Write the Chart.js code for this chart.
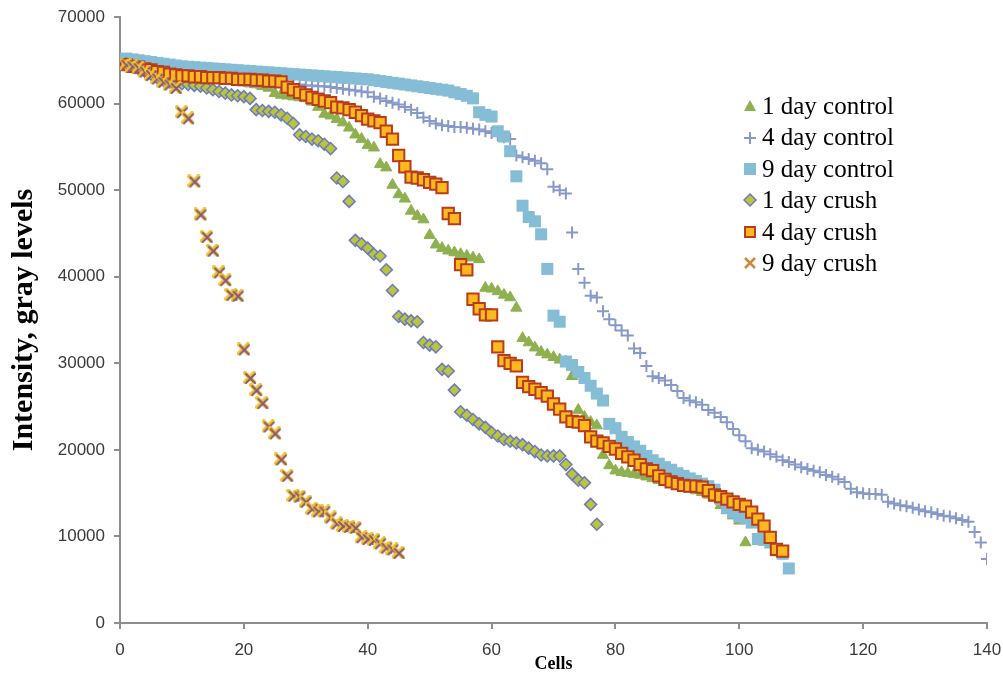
<!DOCTYPE html>
<html>
<head>
<meta charset="utf-8">
<script src="https://cdn.jsdelivr.net/npm/chart.js@4.4.1/dist/chart.umd.min.js"></script>
<style>
html, body { margin: 0; padding: 0; background: #fff; }
#wrap { position: relative; width: 1003px; height: 677px; }
#legend { position: absolute; left: 742px; top: 90px; font-family: "Liberation Serif", "Times New Roman", serif; font-size: 25px; color: #000; }
#legend div { height: 31.4px; line-height: 31.4px; white-space: nowrap; }
#legend svg { vertical-align: middle; margin-right: 4px; position: relative; top: -2px; }
</style>
</head>
<body>
<div id="wrap">
<canvas id="chart" width="1003" height="677"></canvas>
<div id="legend"></div>
</div>
<script>
// values, cell 1..N
const oneDayControl = [64700,64500,64300,64100,63900,63800,63700,63600,63500,63400,
  63300,63200,63100,63000,62900,62800,62700,62600,62500,62400,
  62300,62200,62000,61800,61200,61000,60900,60800,60700,60600,
  60200,59600,58800,58600,58200,57800,57200,56400,55900,55200,
  54900,53000,52600,50600,49500,49000,47600,47000,46600,44800,
  43700,43300,43000,42800,42600,42400,42200,42000,38700,38600,
  38300,37900,37600,36400,32900,32400,31800,31300,31000,30700,
  30400,30200,28500,24600,23800,23200,22800,19400,18200,17600,
  17400,17300,17200,17100,16900,16700,16500,16300,16100,15900,
  15700,15500,15300,15100,14800,14400,13600,13000,12400,11800,
  9300];
const fourDayControl = [65000,64800,64600,64400,64200,64000,63900,63800,63700,63600,
  63500,63400,63300,63200,63100,63000,62900,62800,62700,62600,
  62500,62400,62400,62300,62300,62300,62200,62200,62200,62100,
  62100,62000,62000,61900,61800,61700,61600,61500,61400,61300,
  60800,60600,60300,60100,59900,59600,59300,58900,58400,58000,
  57700,57500,57400,57300,57300,57200,57100,57000,56800,56600,
  56300,56100,55900,54000,53800,53600,53400,53100,52400,50400,
  50000,49600,45100,40900,39300,37800,37600,36000,35100,34400,
  33800,33200,31700,31200,29700,28500,28300,28000,27500,26800,
  26000,25700,25500,25200,24600,24300,23800,23200,22400,21700,
  21000,20200,20000,19800,19500,19200,18800,18600,18300,18000,
  17800,17600,17400,17100,16900,16600,16300,15500,15100,15000,
  14900,14900,14800,14000,13800,13600,13500,13300,13100,12900,
  12800,12600,12400,12300,12100,11900,11700,10500,9300,7400];
const nineDayControl = [65200,65100,65000,64900,64800,64700,64600,64500,64400,64300,
  64250,64200,64150,64100,64050,64000,63950,63900,63850,63800,
  63750,63700,63650,63600,63550,63500,63450,63400,63350,63300,
  63250,63200,63150,63100,63050,63000,62950,62900,62850,62800,
  62700,62600,62500,62400,62300,62200,62100,62000,61900,61800,
  61700,61600,61500,61300,61100,60900,60600,59000,58700,58500,
  56800,56200,54500,51600,48200,46900,46400,44900,40900,35500,
  34800,30200,29800,29000,28300,27400,26500,25700,23000,22500,
  21500,20900,20400,19900,19300,18800,18400,18000,17700,17300,
  17000,16700,16400,16100,15800,15400,14300,13300,12800,12300,
  12100,11600,9700,9600,9300,8400,8000,6300];
const oneDayCrush = [64600,64300,64000,63700,63400,63000,62700,62500,62400,62300,
  62200,62100,62000,61800,61600,61400,61200,61000,60900,60800,
  60600,59300,59200,59100,59000,58700,58300,57700,56400,56200,
  55900,55700,55300,54800,51400,51000,48700,44200,43800,43300,
  42600,42400,40800,38400,35400,35100,34900,34800,32400,32100,
  31900,29300,29100,26900,24400,24000,23500,23000,22600,22000,
  21600,21200,21000,20800,20600,20200,19800,19400,19300,19300,
  19300,18300,17200,16500,16200,13700,11400];
const fourDayCrush = [64500,64300,64200,64000,63900,63700,63600,63400,63300,63200,
  63200,63100,63100,63000,63000,63000,62900,62900,62800,62800,
  62800,62700,62700,62600,62600,62500,61900,61600,61300,61000,
  60700,60500,60300,60100,59600,59500,59300,59000,58600,58200,
  58000,57800,56800,55900,54000,52700,51500,51400,51200,50900,
  50700,50300,47300,46700,41400,40800,37400,36300,35600,35600,
  31900,30300,30000,29700,27800,27300,27000,26600,26200,25300,
  24700,23800,23300,23200,22800,21500,21000,20800,20400,20100,
  19600,19200,18800,18300,17800,17600,17000,16600,16300,16100,
  15900,15800,15800,15700,15300,14800,14600,14300,14000,13700,
  13500,12800,12000,11200,9900,8500,8300];
const nineDayCrush = [64500,64300,64100,63700,63300,62900,62500,62200,61800,59000,
  58300,51000,47200,44600,43000,40500,39600,37900,37800,31600,
  28300,26900,25400,22700,21900,18900,17000,14700,14600,14000,
  13200,12900,12900,12200,11500,11200,11100,11000,9900,9700,
  9600,9200,8700,8500,8100];

const seriesNames = ['1 day control', '4 day control', '9 day control', '1 day crush', '4 day crush', '9 day crush'];
const xTicks = [0, 20, 40, 60, 80, 100, 120, 140];
const yTicks = [0, 10000, 20000, 30000, 40000, 50000, 60000, 70000];

function toPoints(arr) {
  return arr.map((v, i) => ({ x: i + 1, y: v }));
}

// x marker with yellow backing, like the 9 day crush points
function crushMark() {
  const c = document.createElement('canvas');
  c.width = 14; c.height = 14;
  const g = c.getContext('2d');
  g.lineCap = 'round';
  g.strokeStyle = '#f2c12e';
  g.lineWidth = 4;
  g.beginPath();
  g.moveTo(2, 2); g.lineTo(11, 11);
  g.moveTo(11, 2); g.lineTo(2, 11);
  g.stroke();
  g.strokeStyle = '#86597a';
  g.lineWidth = 2;
  g.beginPath();
  g.moveTo(3, 3); g.lineTo(12, 12);
  g.moveTo(12, 3); g.lineTo(3, 12);
  g.stroke();
  return c;
}

const axisGray = '#8e8e8e';
const tickFont = { family: '"Liberation Sans", Arial, sans-serif', size: 17 };

let chart = new Chart(document.getElementById('chart').getContext('2d'), {
  type: 'scatter',
  data: {
    datasets: [
      { label: seriesNames[0], data: toPoints(oneDayControl), pointStyle: 'triangle', pointRadius: 6.5,
        backgroundColor: '#8fb04f', borderColor: '#8fb04f', borderWidth: 1, order: 5 },
      { label: seriesNames[1], data: toPoints(fourDayControl), pointStyle: 'cross', pointRadius: 6,
        backgroundColor: '#8799cb', borderColor: '#8799cb', borderWidth: 2, order: 4 },
      { label: seriesNames[2], data: toPoints(nineDayControl), pointStyle: 'rect', pointRadius: 8.5,
        backgroundColor: '#86bdd6', borderColor: '#86bdd6', borderWidth: 0, order: 3 },
      { label: seriesNames[3], data: toPoints(oneDayCrush), pointStyle: 'rectRot', pointRadius: 6,
        backgroundColor: '#b9c63a', borderColor: '#6c79c4', borderWidth: 1.5, order: 2 },
      { label: seriesNames[4], data: toPoints(fourDayCrush), pointStyle: 'rect', pointRadius: 8,
        backgroundColor: '#ffb81e', borderColor: '#b83c1c', borderWidth: 2, order: 1 },
      { label: seriesNames[5], data: toPoints(nineDayCrush), pointStyle: crushMark(), pointRadius: 7,
        backgroundColor: '#f2c12e', borderColor: '#86597a', order: 0 }
    ]
  },
  options: {
    responsive: false,
    animation: false,
    layout: { padding: { top: 17, right: 16, left: 0, bottom: 0 } },
    plugins: { legend: { display: false }, tooltip: { enabled: false } },
    scales: {
      x: {
        type: 'linear', min: 0, max: 140,
        afterFit: s => { s.height = 54; s.paddingLeft = 0; s.paddingRight = 0; },
        afterBuildTicks: s => { s.ticks = xTicks.map(v => ({ value: v })); },
        grid: { drawOnChartArea: false, drawTicks: true, tickLength: 6, color: axisGray, lineWidth: 2 },
        border: { display: true, color: axisGray, width: 2 },
        ticks: { font: tickFont, color: '#3a3a3a', padding: 11, maxRotation: 0, callback: v => String(v) },
        title: { display: true, text: 'Cells', color: '#000', padding: { top: 0, bottom: 2 },
          font: { family: '"Liberation Serif", "Times New Roman", serif', size: 18, weight: 'bold' } }
      },
      y: {
        type: 'linear', min: 0, max: 70000,
        afterFit: s => { s.width = 120; s.paddingTop = 0; s.paddingBottom = 0; },
        afterBuildTicks: s => { s.ticks = yTicks.map(v => ({ value: v })); },
        grid: { drawOnChartArea: false, drawTicks: true, tickLength: 6, color: axisGray, lineWidth: 2 },
        border: { display: true, color: axisGray, width: 2 },
        ticks: { font: tickFont, color: '#3a3a3a', padding: 9, callback: v => String(v) },
        title: { display: true, text: 'Intensity, gray levels', color: '#000', padding: { top: 6, bottom: 0 },
          font: { family: '"Liberation Serif", "Times New Roman", serif', size: 30, weight: 'bold' } }
      }
    }
  }
});

// legend drawn as html next to the plot, like the excel one
const legendMarks = [
  '<polygon points="8,2 14,13 2,13" fill="#8fb04f"/>',
  '<path d="M8,2 V14 M2,8 H14" stroke="#8799cb" stroke-width="2"/>',
  '<rect x="2" y="2" width="12" height="12" fill="#86bdd6"/>',
  '<polygon points="8,2 14,8 8,14 2,8" fill="#b9c63a" stroke="#6c79c4" stroke-width="1.5"/>',
  '<rect x="3" y="3" width="10" height="10" fill="#ffb81e" stroke="#b83c1c" stroke-width="2"/>',
  '<path d="M3,3 L13,13 M13,3 L3,13" stroke="#d0873a" stroke-width="2.5"/>'
];
const legend = document.getElementById('legend');
seriesNames.forEach((name, i) => {
  const row = document.createElement('div');
  row.innerHTML = '<svg width="16" height="16" viewBox="0 0 16 16">' + legendMarks[i] + '</svg>' + name;
  legend.appendChild(row);
});
</script>
</body>
</html>
